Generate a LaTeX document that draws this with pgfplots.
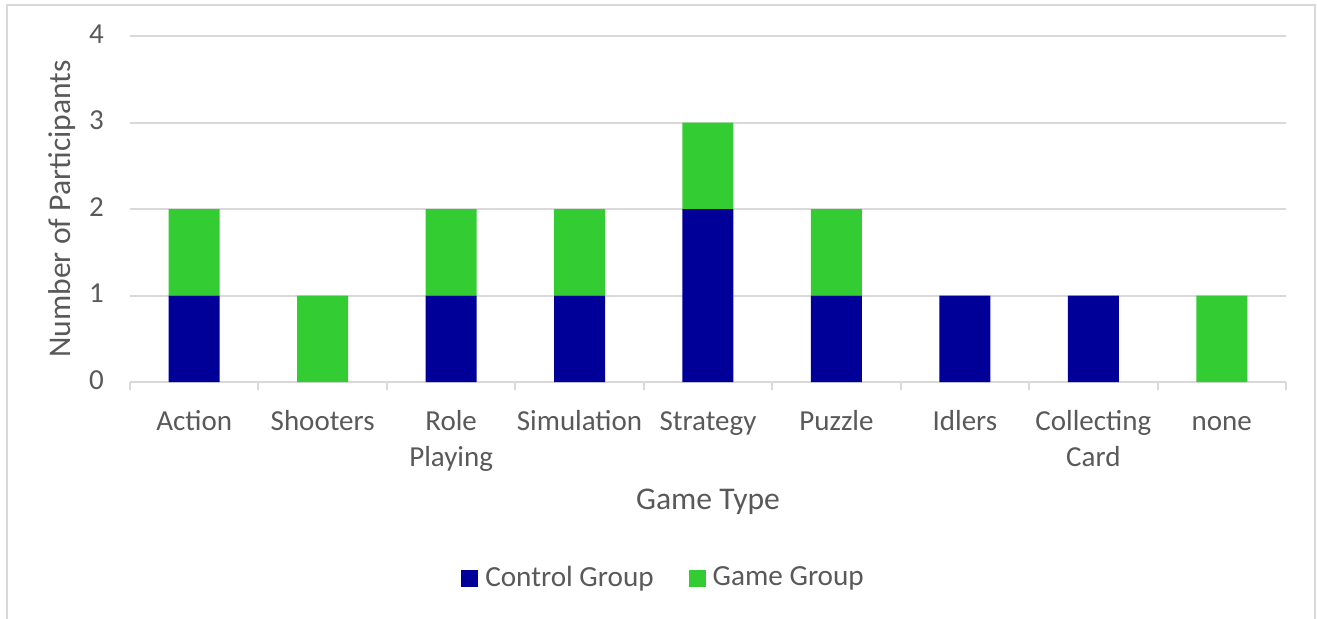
\documentclass[border=0pt]{standalone}
\usepackage{pgfplots}
\pgfplotsset{compat=1.18}
\usepackage{fontspec}
\setmainfont{Carlito}
\definecolor{ctrl}{HTML}{000099}
\definecolor{game}{HTML}{33CC33}
\definecolor{gridc}{HTML}{D9D9D9}
\definecolor{txt}{HTML}{595959}
\begin{document}
\begin{tikzpicture}
\useasboundingbox (-65pt,-118pt) rectangle (593.5pt,191pt);
\draw[gridc, line width=1pt] (-61.5pt,-130pt) rectangle (592.5pt,188.5pt);
\begin{axis}[
  at={(0pt,0pt)}, anchor=south west,
  scale only axis,
  width=578pt, height=173pt,
  ybar stacked,
  bar width=25.5pt,
  xmin=-0.5, xmax=8.5,
  ymin=0, ymax=4,
  xtick={0,...,8},
  xticklabels={Action,Shooters,{Role\\Playing},Simulation,Strategy,Puzzle,Idlers,{Collecting\\Card},none},
  minor xtick={-0.5,0.5,...,8.5},
  ytick={0,1,2,3,4},
  major tick length=0pt,
  minor tick length=4pt,
  every minor tick/.style={gridc, line width=1pt, yshift=-4pt},
  ymajorgrids,
  grid style={gridc, line width=1pt},
  axis x line*=bottom,
  axis y line*=left,
  y axis line style={draw=none},
  x axis line style={gridc, line width=1pt, -},
  font=\fontsize{14.5}{18}\selectfont,
  /pgf/number format/assume math mode=true,
  tick label style={txt},
  typeset ticklabels with strut,
  xticklabel style={align=center, anchor=north, yshift=-8pt},
  yticklabel style={anchor=east, xshift=-9.5pt},
  ylabel={Number of Participants},
  ylabel style={txt, font=\fontsize{15.8}{18}\selectfont, at={(axis description cs:-0.0588,0.5)}, anchor=center, rotate=0},
  xlabel={Game Type},
  xlabel style={txt, font=\fontsize{15.8}{18}\selectfont, at={(axis description cs:0.5,-0.3468)}, anchor=center},
  legend columns=2,
  legend style={draw=none, fill=none, at={(axis description cs:0.4637,-0.5665)}, anchor=center,
    font=\fontsize{14.6}{16}\selectfont\color{txt},
    /tikz/every even column/.append style={column sep=14pt},
    nodes={inner xsep=3.5pt},
    legend cell align=left},
  legend image code/.code={\fill[#1] (0pt,-4.25pt) rectangle (8.5pt,4.25pt);},
  clip=false,
]
\addplot[fill=ctrl, draw=none] coordinates {(0,1) (1,0) (2,1) (3,1) (4,2) (5,1) (6,1) (7,1) (8,0)};
\addplot[fill=game, draw=none] coordinates {(0,1) (1,1) (2,1) (3,1) (4,1) (5,1) (6,0) (7,0) (8,1)};
\legend{Control Group, Game Group}
\end{axis}
\end{tikzpicture}
\end{document}
